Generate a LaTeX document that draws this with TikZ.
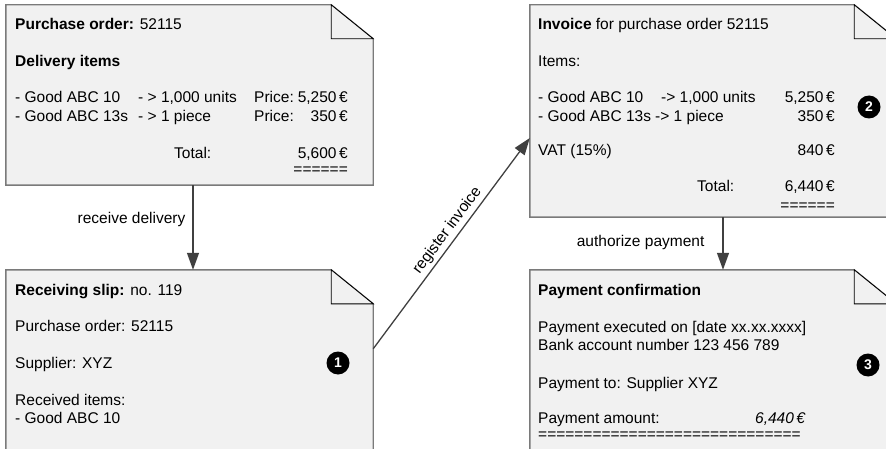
\documentclass[tikz,border=0pt]{standalone}
\usepackage{fontspec}
\setmainfont{Liberation Sans}
\usetikzlibrary{arrows.meta}
\definecolor{docfill}{HTML}{F1F1F1}
\definecolor{docline}{HTML}{7A7A7A}
\definecolor{arrowcol}{HTML}{404040}
\newcommand\mydoc[1]{%
  \draw[docbody] (#1.north west) -- ([xshift=-42pt]#1.north east) -- ([yshift=-34pt]#1.north east) -- (#1.south east) -- (#1.south west) -- cycle;
  \draw[foldline] ([xshift=-42pt]#1.north east) -- ([xshift=-42pt,yshift=-34pt]#1.north east) -- ([yshift=-34pt]#1.north east) -- cycle;
}
\tikzset{
  docbox/.style={rectangle, draw=none, inner sep=0pt},
  docbody/.style={fill=docfill, draw=docline, line width=1.4pt},
  foldline/.style={draw=black, line width=0.9pt, fill=docfill, line join=miter},
  txt/.style={anchor=base west, inner sep=0pt, font=\fontsize{15.5}{19}\selectfont},
  rtxt/.style={anchor=base east, inner sep=0pt, font=\fontsize{15.5}{19}\selectfont},
  lbl/.style={inner sep=0pt, font=\fontsize{15.5}{19}\selectfont},
  badge/.style={circle, fill=black, minimum size=23pt, inner sep=0pt, text=white, font=\fontsize{14}{14}\selectfont\bfseries},
  arr/.style={draw=arrowcol, line width=1.3pt, -{Triangle[length=17pt,width=12pt]}, arrowcol},
}
\begin{document}
\begin{tikzpicture}[x=1pt,y=-1pt]
\useasboundingbox (0,0) rectangle (886,449);
\clip (0,0) rectangle (886,449);
% document anchors
\node[docbox, minimum width=367pt, minimum height=180pt] (po) at (189.5,95) {};
\node[docbox, minimum width=367pt, minimum height=230pt] (rs) at (189.5,385) {};
\node[docbox, minimum width=366pt, minimum height=212pt] (inv) at (713,111) {};
\node[docbox, minimum width=366pt, minimum height=230pt] (pay) at (713,385) {};
\mydoc{po}
\mydoc{rs}
\mydoc{inv}
\mydoc{pay}
% Purchase order
\node[txt] (po1) at (15,30) {\textbf{Purchase order:} 52115};
\node[txt] (po2) at (15,66.5) {\textbf{Delivery items}};
\node[txt] (po3a) at (15,103) {- Good ABC 10};
\node[txt] (po3b) at (138,103) {- > 1,000 units};
\node[txt] (po3c) at (254,103) {Price:};
\node[rtxt] (po3d) at (348,103) {5,250\,€};
\node[txt] (po4a) at (15,121.3) {- Good ABC 13s};
\node[txt] (po4b) at (138,121.3) {- > 1 piece};
\node[txt] (po4c) at (254,121.3) {Price:};
\node[rtxt] (po4d) at (348,121.3) {350\,€};
\node[txt] (po5a) at (174,158.5) {Total:};
\node[rtxt] (po5b) at (348,158.5) {5,600\,€};
\node[rtxt] (po6) at (348,174.5) {======};
% Receiving slip
\node[txt] (rs1) at (15,295) {\textbf{Receiving slip:} no. 119};
\node[txt] (rs2) at (15,331.6) {Purchase order: 52115};
\node[txt] (rs3) at (15,368.5) {Supplier: XYZ};
\node[txt] (rs4) at (15,405) {Received items:};
\node[txt] (rs5) at (15,423.3) {- Good ABC 10};
\node[badge] (b1) at (338,363) {1};
% Invoice
\node[txt] (in1) at (538,30) {\textbf{Invoice} for purchase order 52115};
\node[txt] (in2) at (538,67) {Items:};
\node[txt] (in3a) at (538,102.5) {- Good ABC 10};
\node[txt] (in3b) at (661,102.5) {-> 1,000 units};
\node[rtxt] (in3c) at (835,102.5) {5,250\,€};
\node[txt] (in4a) at (538,121.5) {- Good ABC 13s};
\node[txt] (in4b) at (655,121.5) {-> 1 piece};
\node[rtxt] (in4c) at (835,121.5) {350\,€};
\node[txt] (in5a) at (538,156) {VAT (15\%)};
\node[rtxt] (in5b) at (835,156) {840\,€};
\node[txt] (in6a) at (697,192) {Total:};
\node[rtxt] (in6b) at (835,192) {6,440\,€};
\node[rtxt] (in7) at (835,211) {======};
\node[badge] (b2) at (869,107) {2};
% Payment confirmation
\node[txt] (pc1) at (538,295) {\textbf{Payment confirmation}};
\node[txt] (pc2) at (538,332) {Payment executed on [date xx.xx.xxxx]};
\node[txt] (pc3) at (538,350.3) {Bank account number 123 456 789};
\node[txt] (pc4) at (538,388) {Payment to: Supplier XYZ};
\node[txt] (pc5a) at (538,423) {Payment amount:};
\node[rtxt] (pc5b) at (806,423) {\textit{6,440\,€}};
\node[txt] (pc6) at (538,439) {=============================};
\node[badge] (b3) at (868,365) {3};
% connectors
\draw[arr] ([xshift=3.5pt]po.south) -- node[lbl, pos=0.4, anchor=east, xshift=-7pt, text=black] (l1) {receive delivery} ([xshift=3.5pt]rs.north);
\draw[arr] ([yshift=-79pt]rs.north east) -- node[lbl, pos=0.53, sloped, above, inner sep=3pt, text=black] (l2) {register invoice} ([yshift=-27pt]inv.west);
\draw[arr] ([xshift=10pt]inv.south) -- node[lbl, pos=0.49, anchor=east, xshift=-18pt, text=black] (l3) {authorize payment} ([xshift=10pt]pay.north);
\end{tikzpicture}
\end{document}
